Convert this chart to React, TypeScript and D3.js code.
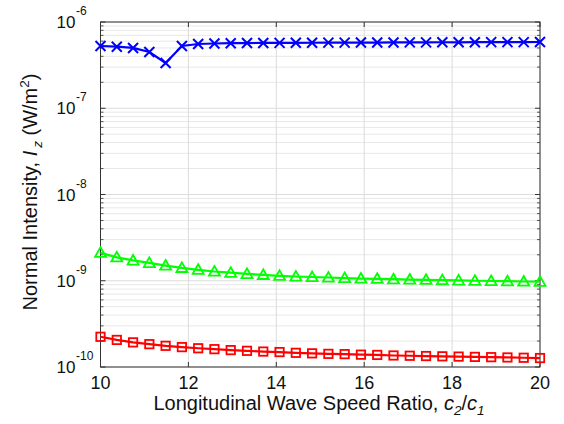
import React from "react";
import * as d3 from "d3";

const xTicks = [10, 12, 14, 16, 18, 20];
const yDecades = [-10, -9, -8, -7, -6];
const N = 28;
const speedRatio = d3.range(N).map((i) => 10 + (10 * i) / (N - 1));

const blueVals = [5.27, 5.17, 5.0, 4.49, 3.35, 5.27, 5.56, 5.63, 5.68, 5.7, 5.72, 5.73, 5.74, 5.75, 5.76, 5.77, 5.78, 5.78, 5.79, 5.8, 5.81, 5.82, 5.82, 5.83, 5.84, 5.85, 5.85, 5.86].map((v) => v * 1e-7);
const greenVals = [2.11, 1.87, 1.72, 1.61, 1.5, 1.41, 1.34, 1.28, 1.24, 1.2, 1.17, 1.14, 1.12, 1.105, 1.09, 1.075, 1.06, 1.054, 1.042, 1.033, 1.025, 1.017, 1.009, 1.0, 0.993, 0.988, 0.98, 0.975].map((v) => v * 1e-9);
const redVals = [2.24, 2.06, 1.93, 1.84, 1.76, 1.7, 1.65, 1.61, 1.57, 1.54, 1.51, 1.49, 1.46, 1.44, 1.42, 1.41, 1.39, 1.38, 1.36, 1.35, 1.34, 1.33, 1.32, 1.31, 1.3, 1.29, 1.28, 1.27].map((v) => v * 1e-10);

const L = 100.5, R = 540, T = 22, B = 367;
const font = "'Liberation Sans', Arial, sans-serif";

export default function App() {
  const x = d3.scaleLinear().domain([10, 20]).range([L, R]);
  const y = d3.scaleLog().domain([1e-10, 1e-6]).range([B, T]);
  const line = d3.line<number>().x((_, i) => x(speedRatio[i])).y((d) => y(d));

  const minors: number[] = [];
  for (let e = -10; e < -6; e++) for (let m = 2; m <= 9; m++) minors.push(m * Math.pow(10, e));

  return (
    <svg width={564} height={424} style={{ position: "absolute", left: 0, top: 0, background: "#fff" }} fontFamily={font}>
      <rect x={0} y={0} width={564} height={424} fill="#fff" />
      {/* grid */}
      {minors.map((v, i) => (
        <line key={"mg" + i} x1={L} x2={R} y1={y(v)} y2={y(v)} stroke="#e8e8e8" strokeWidth={1} />
      ))}
      {yDecades.map((e) => (
        <line key={"yg" + e} x1={L} x2={R} y1={y(Math.pow(10, e))} y2={y(Math.pow(10, e))} stroke="#dcdcdc" strokeWidth={1} />
      ))}
      {xTicks.map((t) => (
        <line key={"xg" + t} x1={x(t)} x2={x(t)} y1={T} y2={B} stroke="#dcdcdc" strokeWidth={1} />
      ))}
      {/* ticks */}
      {xTicks.map((t) => (
        <g key={"xt" + t}>
          <line x1={x(t)} x2={x(t)} y1={B} y2={B - 5} stroke="#333" />
          <line x1={x(t)} x2={x(t)} y1={T} y2={T + 5} stroke="#333" />
          <text x={x(t)} y={389} fontSize={18} textAnchor="middle" fill="#111">{t}</text>
        </g>
      ))}
      {minors.map((v, i) => (
        <g key={"mt" + i}>
          <line x1={L} x2={L + 3} y1={y(v)} y2={y(v)} stroke="#555" />
          <line x1={R} x2={R - 3} y1={y(v)} y2={y(v)} stroke="#555" />
        </g>
      ))}
      {yDecades.map((e) => (
        <g key={"yt" + e}>
          <line x1={L} x2={L + 5} y1={y(Math.pow(10, e))} y2={y(Math.pow(10, e))} stroke="#333" />
          <line x1={R} x2={R - 5} y1={y(Math.pow(10, e))} y2={y(Math.pow(10, e))} stroke="#333" />
          <text x={56.5} y={y(Math.pow(10, e)) + 6} fontSize={17} textAnchor="start" fill="#111">10</text>
          <text x={76} y={y(Math.pow(10, e)) - 7} fontSize={12} textAnchor="start" fill="#111">{e}</text>
        </g>
      ))}
      {/* box */}
      <rect x={L} y={T} width={R - L} height={B - T} fill="none" stroke="#333" strokeWidth={1} />
      {/* series */}
      <path d={line(blueVals) || ""} fill="none" stroke="#0000ff" strokeWidth={2.2} />
      <path d={line(greenVals) || ""} fill="none" stroke="#00ff00" strokeWidth={2.2} />
      <path d={line(redVals) || ""} fill="none" stroke="#ff0000" strokeWidth={2.2} />
      {blueVals.map((v, i) => {
        const cx = x(speedRatio[i]), cy = y(v), s = 5;
        return (
          <path key={"bm" + i} d={`M${cx - s},${cy - s}L${cx + s},${cy + s}M${cx - s},${cy + s}L${cx + s},${cy - s}`} stroke="#0000ff" strokeWidth={2} fill="none" />
        );
      })}
      {greenVals.map((v, i) => {
        const cx = x(speedRatio[i]), cy = y(v), s = 5.5;
        return (
          <path key={"gm" + i} d={`M${cx},${cy - s}L${cx + s},${cy + s * 0.75}L${cx - s},${cy + s * 0.75}Z`} stroke="#00ff00" strokeWidth={1.8} fill="none" />
        );
      })}
      {redVals.map((v, i) => {
        const cx = x(speedRatio[i]), cy = y(v), s = 4.2;
        return (
          <rect key={"rm" + i} x={cx - s} y={cy - s} width={2 * s} height={2 * s} stroke="#ff0000" strokeWidth={1.8} fill="none" />
        );
      })}
      {/* axis labels */}
      <text x={319} y={410} fontSize={20} textAnchor="middle" fill="#111">
        Longitudinal Wave Speed Ratio, <tspan fontStyle="italic">c</tspan>
        <tspan fontStyle="italic" fontSize={13.5} dy={5}>2</tspan>
        <tspan dy={-5}>/</tspan>
        <tspan fontStyle="italic">c</tspan>
        <tspan fontStyle="italic" fontSize={13.5} dy={5}>1</tspan>
      </text>
      <text transform={`translate(37,${192}) rotate(-90)`} fontSize={20} textAnchor="middle" fill="#111">
        Normal Intensity, <tspan fontStyle="italic">I</tspan>
        <tspan fontStyle="italic" fontSize={13.5} dy={5} dx={3}>z</tspan>
        <tspan dy={-5}> (W/m</tspan>
        <tspan fontSize={13.5} dy={-8}>2</tspan>
        <tspan dy={8}>)</tspan>
      </text>
    </svg>
  );
}
